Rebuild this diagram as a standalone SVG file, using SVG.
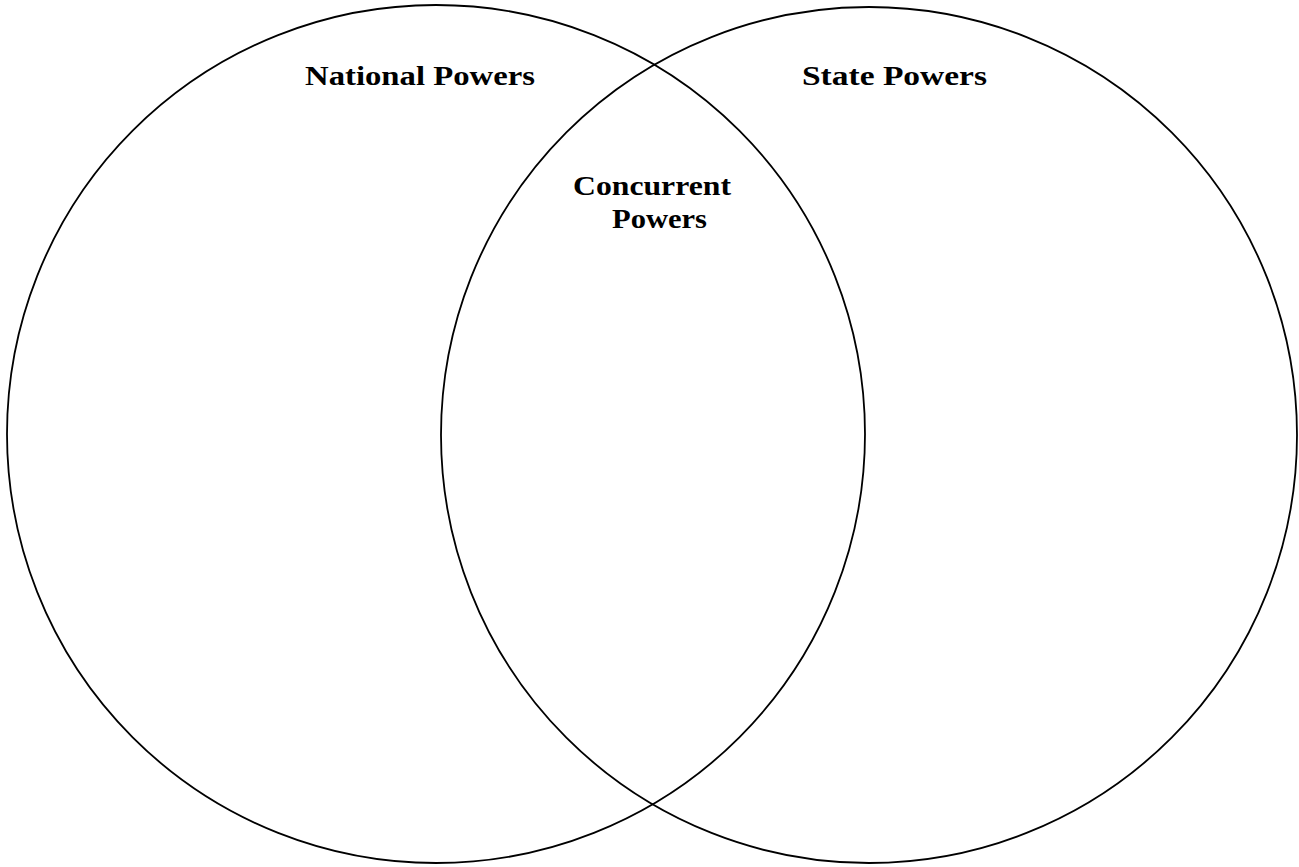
<svg xmlns="http://www.w3.org/2000/svg" width="1299" height="867" viewBox="0 0 1299 867">
<style>
.c{fill:none;stroke:#000;stroke-width:1.8}
.t{font-family:"Liberation Serif","Times New Roman",serif;font-weight:bold;font-size:27px;fill:#000}
</style>
<rect width="1299" height="867" fill="#fff"/>
<g id="national">
<circle class="c" cx="436" cy="434" r="429"/>
<text class="t" x="305" y="85" textLength="230" lengthAdjust="spacingAndGlyphs">National Powers</text>
</g>
<g id="state">
<circle class="c" cx="869" cy="435" r="428"/>
<text class="t" x="802" y="85" textLength="185" lengthAdjust="spacingAndGlyphs">State Powers</text>
</g>
<g id="concurrent">
<text class="t" x="573" y="195" textLength="158" lengthAdjust="spacingAndGlyphs">Concurrent</text>
<text class="t" x="612" y="228" textLength="95" lengthAdjust="spacingAndGlyphs">Powers</text>
</g>
<g id="connectors"></g>
</svg>
